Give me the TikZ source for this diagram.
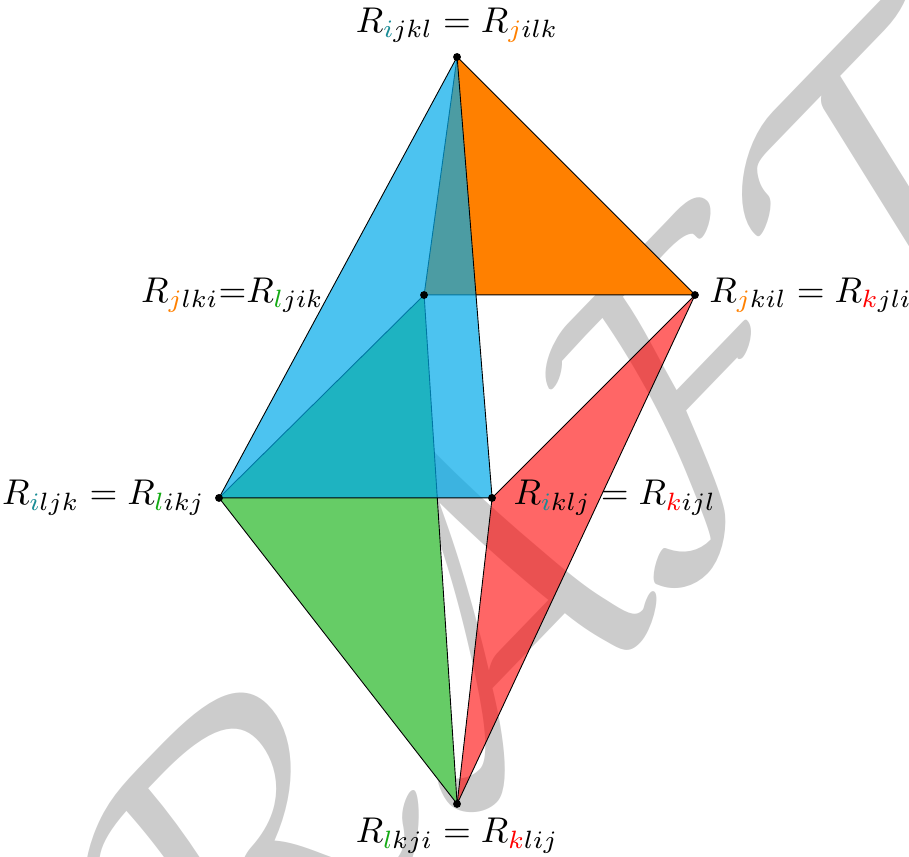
\documentclass[tikz,border=0pt]{standalone}
\usepackage{xcolor}
\usepackage{tikz}
\usetikzlibrary{positioning,backgrounds}
\definecolor{faceI}{RGB}{0,169,233}
\definecolor{faceL}{RGB}{102,204,102}
\definecolor{idxI}{RGB}{25,140,150}
\definecolor{idxL}{RGB}{20,170,20}
\definecolor{wmgray}{gray}{0.8}
\newcommand{\idi}[1]{\textcolor{idxI}{#1}}
\newcommand{\idj}[1]{\textcolor{orange}{#1}}
\newcommand{\idk}[1]{\textcolor{red}{#1}}
\newcommand{\idl}[1]{\textcolor{idxL}{#1}}
\tikzset{
  vert/.style  = {circle, fill=black, inner sep=0pt, minimum size=2.2pt},
  face/.style  = {draw=black, line width=0.25pt, line join=round},
  facei/.style = {face, fill=faceI, fill opacity=0.7},
  facej/.style = {face, fill=orange},
  facek/.style = {face, fill=red, fill opacity=0.6},
  facel/.style = {face, fill=faceL},
  rlab/.style  = {inner sep=2.5pt},
  wmark/.style = {text=wmgray, scale=10.7, rotate=46},
}

\begin{document}
\begin{tikzpicture}[scale=1.08]
\useasboundingbox (0,0) rectangle (8.264,7.791);
% vertices
\node[vert] (top) at (4.155,7.273) {};
\node[vert] (back) at (3.855,5.109) {};
\node[vert] (rgt) at (6.318,5.109) {};
\node[vert] (lft) at (1.991,3.264) {};
\node[vert] (mid) at (4.473,3.264) {};
\node[vert] (bot) at (4.155,0.482) {};
% labels
\node[rlab, above=0pt of top]  (ltop)  {$R_{\idi{i}jkl} = R_{\idj{j}ilk}$};
\node[rlab, left=24pt of back] (lback) {$R_{\idj{j}lki}{=}R_{\idl{l}jik}$};
\node[rlab, right=0pt of rgt]  (lrgt)  {$R_{\idj{j}kil} = R_{\idk{k}jli}$};
\node[rlab, left=0pt of lft]   (llft)  {$R_{\idi{i}ljk} = R_{\idl{l}ikj}$};
\node[rlab, right=2pt of mid]  (lmid)  {$R_{\idi{i}klj} = R_{\idk{k}ijl}$};
\node[rlab, below=0pt of bot]  (lbot)  {$R_{\idl{l}kji} = R_{\idk{k}lij}$};
\begin{scope}[on background layer]
  \node[wmark] (draft) at (4.19,2.12) {$\mathcal{DRAFT}$};
  \draw[facel] (lft.center) -- (back.center) -- (bot.center) -- cycle;
  \draw[facej] (top.center) -- (back.center) -- (rgt.center) -- cycle;
  \draw[facei] (top.center) -- (lft.center) -- (mid.center) -- cycle;
  \draw[facek] (rgt.center) -- (mid.center) -- (bot.center) -- cycle;
\end{scope}
\end{tikzpicture}
\end{document}
